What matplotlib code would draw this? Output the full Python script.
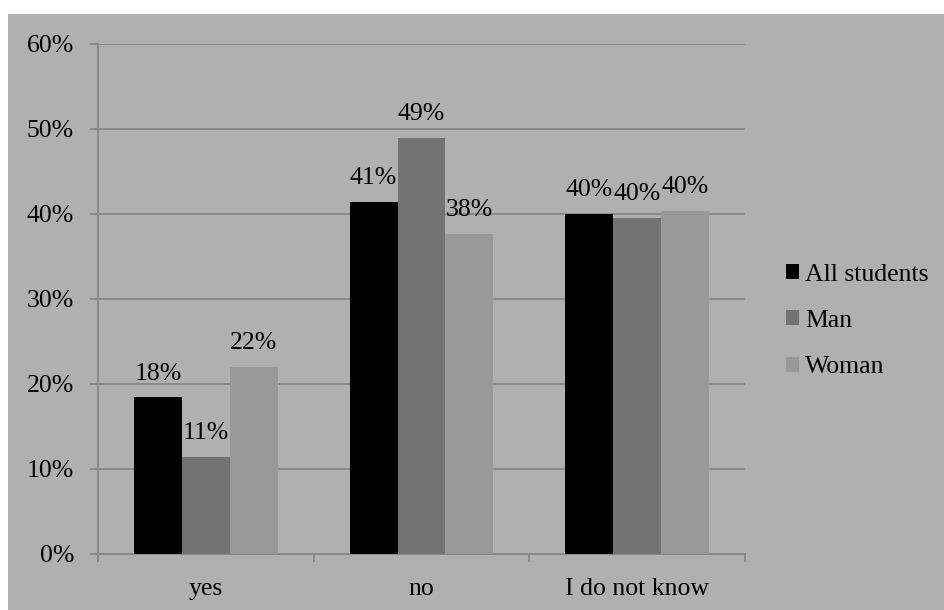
import matplotlib
matplotlib.use("Agg")
import matplotlib.pyplot as plt
from matplotlib.patches import Rectangle
import numpy as np

categories = ["yes", "no", "I do not know"]
series_names = ["All students", "Man", "Woman"]
all_students = [18.4, 41.4, 40.0]
man = [11.4, 48.9, 39.5]
woman = [22.0, 37.6, 40.3]
value_labels = [["18%", "41%", "40%"], ["11%", "49%", "40%"], ["22%", "38%", "40%"]]
y_ticks = [0, 10, 20, 30, 40, 50, 60]

plt.rcParams["font.family"] = ["Liberation Serif", "DejaVu Serif"]
FS = 18.5

W, H = 945, 610
fig = plt.figure(figsize=(W / 100, H / 100), dpi=100, facecolor="white")
bg = "#b0b0b0"
grid_c = "#878787"
fig.patches.append(Rectangle((8 / W, -0.01), 1.0, 1.01 - 14 / H, transform=fig.transFigure,
                             facecolor=bg, edgecolor="none", zorder=-5))

ax = fig.add_axes([98 / W, 56 / H, (745 - 98) / W, (554 - 43.5) / H])
ax.set_facecolor(bg)

colors = ["#000000", "#737373", "#999999"]
series = [all_students, man, woman]
x = np.arange(len(categories))
bw = 0.2225
for i, (vals, col, labs) in enumerate(zip(series, colors, value_labels)):
    pos = x + (i - 1) * bw
    ax.bar(pos, vals, width=bw, color=col, label=series_names[i], zorder=3)
    for px, v, t in zip(pos, vals, labs):
        ax.annotate(t, (px, v), xytext=(0, 12.7), textcoords="offset points",
                    ha="center", va="baseline", fontsize=FS, color="black")

ax.set_xlim(-0.5, 2.5)
ax.set_ylim(0, 60)
ax.set_yticks(y_ticks)
ax.set_yticklabels([f"{t}%" for t in y_ticks])
ax.yaxis.grid(True, color=grid_c, linewidth=1.3, zorder=0)
ax.set_axisbelow(True)

ax.set_xticks(x)
ax.set_xticklabels(categories)
ax.set_xticks([-0.5, 0.5, 1.5, 2.5], minor=True)
ax.tick_params(axis="x", which="major", length=0, pad=17, labelsize=FS)
ax.tick_params(axis="x", which="minor", length=6, width=1.3, color=grid_c, direction="out")
ax.tick_params(axis="y", length=6, width=1.3, color=grid_c, pad=11.3, labelsize=FS)

for s in ["top", "right"]:
    ax.spines[s].set_visible(False)
for s in ["left", "bottom"]:
    ax.spines[s].set_color(grid_c)
    ax.spines[s].set_linewidth(1.3)

leg = fig.legend(loc="center left", bbox_to_anchor=(786 / W, 1 - 321 / H), frameon=False,
                 fontsize=FS, handlelength=0.52, handleheight=0.52, handletextpad=0.22,
                 labelspacing=0.94, borderaxespad=0, borderpad=0)

fig.savefig("out.png", dpi=100, facecolor="white")
